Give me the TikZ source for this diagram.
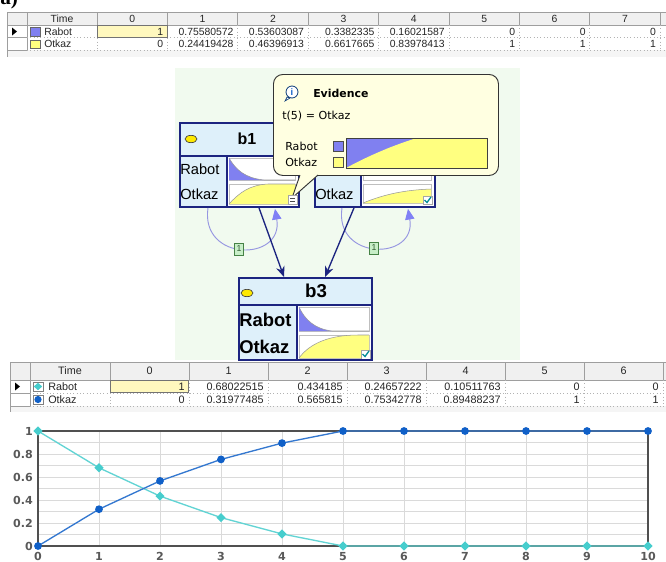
\documentclass[tikz,border=0pt]{standalone}
\usepackage{fontspec}
\setmainfont{Liberation Sans}
\newfontfamily\djv{DejaVu Sans}
\newfontfamily\serf{Liberation Serif}
\usetikzlibrary{arrows.meta,shapes.geometric,calc}

\definecolor{navy}{RGB}{28,36,128}
\definecolor{headfill}{RGB}{222,240,250}
\definecolor{rabotc}{RGB}{128,128,240}
\definecolor{otkazc}{RGB}{255,255,128}
\definecolor{tipfill}{RGB}{255,255,225}
\definecolor{loopc}{RGB}{150,150,225}
\definecolor{loophead}{RGB}{128,128,245}
\definecolor{tealc}{RGB}{70,205,205}
\definecolor{bluec}{RGB}{16,96,200}
\definecolor{gridc}{RGB}{218,218,218}
\definecolor{panec}{RGB}{241,250,239}
\definecolor{hdrc}{RGB}{240,240,240}
\definecolor{selc}{RGB}{255,248,190}
\definecolor{tagfill}{RGB}{200,238,200}
\definecolor{tagline}{RGB}{70,130,70}
\definecolor{checkc}{RGB}{0,140,150}
\definecolor{axisc}{RGB}{80,80,80}

\begin{document}
\begin{tikzpicture}[x=0.75pt,y=-0.75pt,
  tb/.style={inner sep=0pt, font=\fontsize{7.8}{9}\selectfont, text=black!85},
  tbb/.style={inner sep=0pt, font=\fontsize{8.1}{9}\selectfont, text=black!85},
  hline/.style={draw=black!38, line width=0.5pt},
  dline/.style={draw=black!30, dotted, line width=0.5pt},
  nborder/.style={draw=navy, line width=1.4pt, inner sep=0pt, anchor=north west},
  nlab/.style={inner sep=0pt, anchor=west, font=\fontsize{11}{11}\selectfont},
  nlabbig/.style={inner sep=0pt, anchor=west, font=\bfseries\fontsize{13.8}{14}\selectfont},
  minichart/.style={draw=black!25, line width=0.4pt, fill=white},
  curveedge/.style={draw=black!40, line width=0.4pt},
  dotmark/.style={ellipse, draw=black!75, fill=yellow!92!orange, line width=0.5pt, minimum width=9pt, minimum height=5.5pt, inner sep=0pt},
  depedge/.style={navy, line width=1pt, -{Stealth[length=8pt,width=6.5pt]}},
  tempedge/.style={loopc, line width=0.7pt, -{Triangle[length=8pt,width=7pt,color=loophead]}},
  tagbox/.style={draw=tagline, fill=tagfill, text=tagline!70!black, inner sep=0pt, minimum width=7pt, minimum height=9pt, font=\fontsize{6.5}{7}\selectfont},
  tiptext/.style={inner sep=0pt, anchor=west, font=\djv\fontsize{8.3}{9}\selectfont},
  ticklab/.style={inner sep=0pt, font=\djv\bfseries\fontsize{8.3}{9}\selectfont, text=black!65},
  checkbox/.style={draw=black!35, fill=white, line width=0.4pt},
]
\useasboundingbox (0,0) rectangle (666,561);
\clip (0,0) rectangle (666,561);
\fill[white] (0,0) rectangle (666,561);

% caption letter, mostly above the page edge
\node[anchor=base west, inner sep=0pt, font=\serf\bfseries\fontsize{16}{16}\selectfont] (caption) at (0,4) {a)};

% ---------------- upper table: prior marginals ----------------
\fill[white] (7,12) rectangle (666,57);
\fill[hdrc] (7,12) rectangle (666,25);
\fill[black!4] (7,50) rectangle (666,57);
\draw[hline] (7,12) -- (666,12) (7,25) -- (666,25) (7,12) -- (7,57);
\foreach \xx in {27,97,167.4,237.8,308.2,378.6,449,519.4,589.8,660.2}
  \draw[hline] (\xx,12) -- (\xx,25);
\draw[hline] (27,25) -- (27,50) (7,37.5) -- (27,37.5) (7,50) -- (27,50);
\foreach \xx in {97,167.4,237.8,308.2,378.6,449,519.4,589.8,660.2}
  \draw[dline] (\xx,25) -- (\xx,50);
\draw[dline] (27,37.5) -- (666,37.5) (27,50) -- (666,50);
\fill[selc] (97.5,25.5) rectangle (167,37);
\draw[black!55, line width=0.5pt] (97.5,25.5) rectangle (167,37);
\fill[black] (12,27.5) -- (17,31.5) -- (12,35.5) -- cycle;
\draw[black!60, fill=rabotc, line width=0.5pt] (30,27.5) rectangle (40,36);
\draw[black!60, fill=otkazc, line width=0.5pt] (30,40) rectangle (40,48.5);
\node[tb] (atime) at (62,18.5) {Time};
\node[tb, anchor=west] (arab) at (44,31.5) {Rabot};
\node[tb, anchor=west] (aotk) at (44,44) {Otkaz};
\foreach \k/\rv/\ov in {0/1/0,1/0.75580572/0.24419428,2/0.53603087/0.46396913,3/0.3382335/0.6617665,4/0.16021587/0.83978413,5/0/1,6/0/1,7/0/1}{
  \node[tb] (ah\k) at ({132.2+70.4*\k},18.5) {\k};
  \node[tb, anchor=east] (ar\k) at ({163.4+70.4*\k},31.5) {\rv};
  \node[tb, anchor=east] (ao\k) at ({163.4+70.4*\k},44) {\ov};
}

% ---------------- network pane ----------------
\fill[panec] (175,68) rectangle (520,360);

% node b1
\fill[headfill] (179,122) rectangle (298,206);
\fill[white] (227,156) rectangle (298,206);
\draw[minichart] (229,158) rectangle (295,180);
\fill[rabotc] (229,158) .. controls (236,170) and (245,178) .. (264,180) -- (229,180) -- cycle;
\draw[curveedge] (229,158) .. controls (236,170) and (245,178) .. (264,180) -- (295,180);
\draw[minichart] (229,184) rectangle (295,204);
\fill[otkazc] (229,204) .. controls (240,192) and (250,185) .. (268,184) -- (295,184) -- (295,204) -- cycle;
\draw[curveedge] (229,204) .. controls (240,192) and (250,185) .. (268,184) -- (295,184);
\draw[navy, line width=1pt] (179,156) -- (298,156) (227,156) -- (227,206);
\node[dotmark] (b1dot) at (191,139) {};
\node[inner sep=0pt, font=\bfseries\fontsize{12}{12}\selectfont] (b1name) at (247,139) {b1};
\node[nlab] (b1r) at (180,169) {Rabot};
\node[nlab] (b1o) at (180,194) {Otkaz};
\node[nborder, minimum width=89.25pt, minimum height=63pt] (b1) at (179,122) {};

% node b2
\fill[headfill] (314,122) rectangle (434,206);
\fill[white] (361,156) rectangle (434,206);
\draw[minichart] (363,158) rectangle (431,180);
\draw[minichart] (363,184) rectangle (431,203);
\fill[otkazc] (363,203) .. controls (385,194) and (405,190) .. (431,189) -- (431,203) -- cycle;
\draw[curveedge] (363,203) .. controls (385,194) and (405,190) .. (431,189);
\draw[navy, line width=1pt] (314,156) -- (434,156) (361,156) -- (361,206);
\node[nlab] (b2o) at (315,194) {Otkaz};
\draw[checkbox] (423,196) rectangle (432,204);
\draw[checkc, line width=1pt] (424.5,200) -- (427,202.5) -- (431,197);
\node[nborder, minimum width=90pt, minimum height=63pt] (b2) at (314,122) {};

% node b3
\fill[headfill] (238,277) rectangle (371,359);
\fill[white] (297,305) rectangle (371,359);
\draw[minichart] (299,307) rectangle (369,331);
\fill[rabotc] (299,307) .. controls (305,320) and (315,329) .. (332,331) -- (299,331) -- cycle;
\draw[curveedge] (299,307) .. controls (305,320) and (315,329) .. (332,331) -- (369,331);
\draw[minichart] (299,335) rectangle (369,358);
\fill[otkazc] (299,358) .. controls (310,343) and (330,335) .. (358,335) -- (369,335) -- (369,358) -- cycle;
\draw[curveedge] (299,358) .. controls (310,343) and (330,335) .. (358,335) -- (369,335);
\draw[navy, line width=1pt] (238,305) -- (371,305) (297,305) -- (297,359);
\node[dotmark] (b3dot) at (247,293) {};
\node[inner sep=0pt, font=\bfseries\fontsize{14}{14}\selectfont] (b3name) at (316,291) {b3};
\node[nlabbig] (b3r) at (239,320) {Rabot};
\node[nlabbig] (b3o) at (239,347) {Otkaz};
\draw[checkbox] (361,350) rectangle (370,359);
\draw[checkc, line width=1pt] (362.5,354) -- (365,356.5) -- (369,351);
\node[nborder, minimum width=99.75pt, minimum height=61.5pt] (b3) at (238,277) {};

% connection points on the node frames
\coordinate (b1loopout) at ($(b1.south west)+(29,0)$);
\coordinate (b1loopin)  at ($(b1.south west)+(96,1)$);
\coordinate (b1out)     at ($(b1.south west)+(80,0)$);
\coordinate (b2loopout) at ($(b2.south west)+(28,0)$);
\coordinate (b2loopin)  at ($(b2.south west)+(94,1)$);
\coordinate (b2out)     at ($(b2.south west)+(40,0)$);
\coordinate (b3inA)     at ($(b3.north west)+(46,0)$);
\coordinate (b3inB)     at ($(b3.north west)+(87,0)$);

% temporal self-links with their lag tags
\draw[tempedge] (b1loopout) .. controls (200,262) and (284,262) .. (b1loopin);
\draw[tempedge] (b2loopout) .. controls (334,261) and (417,261) .. (b2loopin);
\node[tagbox] (lag1) at (239,249) {1};
\node[tagbox] (lag2) at (374,248) {1};

% dependencies into b3
\draw[depedge] (b1out) -- (b3inA);
\draw[depedge] (b2out) -- (b3inB);

% evidence tooltip
\node[draw=black!80, fill=tipfill, line width=0.7pt, rounded corners=7pt, minimum width=168.75pt, minimum height=75.75pt, inner sep=0pt, anchor=north west] (evid) at (273,74) {};
\fill[tipfill] (300,175) -- (292,198) -- (318,175) -- cycle;
\fill[tipfill] (301,173) rectangle (317,176.3);
\draw[black!80, line width=0.7pt] (300,175) -- (292,198) -- (318,175);
\fill[white, draw=bluec!60!black, line width=0.5pt] (287,97) -- (285,101) -- (290,98) -- cycle;
\node[circle, draw=bluec!60!black, fill=white, line width=0.6pt, inner sep=0pt, minimum size=9pt, font=\bfseries\fontsize{7}{7}\selectfont, text=bluec] (info) at (292,92) {i};
\node[tiptext, font=\djv\bfseries\fontsize{8.2}{9}\selectfont] (evhead) at (313,93) {Evidence};
\node[tiptext] (evline) at (282,116) {t(5) = Otkaz};
\node[tiptext] (evrab) at (285,146) {Rabot};
\node[tiptext] (evotk) at (285,162) {Otkaz};
\draw[black!70, fill=rabotc, line width=0.5pt] (333,141) rectangle (343,151);
\draw[black!70, fill=otkazc, line width=0.5pt] (333,157) rectangle (343,167);
\fill[rabotc] (346,138) rectangle (487,168);
\fill[otkazc] plot[smooth] coordinates {(346,168) (360.1,160.7) (374.2,154.1) (388.3,148.1) (402.4,142.8) (416.5,138)} -- (487,138) -- (487,168) -- cycle;
\draw[black!75, line width=0.6pt] (346,138) rectangle (487,168);

% evidence marker on b1
\draw[checkbox] (288,195) rectangle (297,204);
\draw[black!70, line width=0.6pt] (290,198.5) -- (295,198.5) (290,201) -- (295,201);

% ---------------- lower table: posterior marginals ----------------
\fill[white] (10,362) rectangle (666,412);
\fill[hdrc] (10,362) rectangle (666,380);
\fill[black!4] (10,406) rectangle (666,412);
\draw[hline] (10,362) -- (666,362) (10,380) -- (666,380) (10,362) -- (10,412);
\foreach \xx in {30,110,189,268,347,426,505,584,663}
  \draw[hline] (\xx,362) -- (\xx,380);
\draw[hline] (30,380) -- (30,406) (10,393) -- (30,393) (10,406) -- (30,406);
\foreach \xx in {110,189,268,347,426,505,584,663}
  \draw[dline] (\xx,380) -- (\xx,406);
\draw[dline] (30,393) -- (666,393) (30,406) -- (666,406);
\fill[selc] (110.5,380.5) rectangle (188.5,392.5);
\draw[black!55, line width=0.5pt] (110.5,380.5) rectangle (188.5,392.5);
\fill[black] (15,382.5) -- (20,386.5) -- (15,390.5) -- cycle;
\draw[black!50, fill=white, line width=0.5pt] (33,382) rectangle (43,391);
\fill[tealc] (38,382.8) -- (42.2,386.5) -- (38,390.2) -- (33.8,386.5) -- cycle;
\draw[black!50, fill=white, line width=0.5pt] (33,395) rectangle (43,404);
\fill[bluec] (38,399.5) circle[radius=3.6];
\node[tbb] (btime) at (70,371) {Time};
\node[tbb, anchor=west] (brab) at (48,386.5) {Rabot};
\node[tbb, anchor=west] (botk) at (48,399.5) {Otkaz};
\foreach \k/\rv/\ov in {0/1/0,1/0.68022515/0.31977485,2/0.434185/0.565815,3/0.24657222/0.75342778,4/0.10511763/0.89488237,5/0/1,6/0/1}{
  \node[tbb] (bh\k) at ({149.5+79*\k},371) {\k};
  \node[tbb, anchor=east] (br\k) at ({185+79*\k},386.5) {\rv};
  \node[tbb, anchor=east] (bo\k) at ({185+79*\k},399.5) {\ov};
}

% ---------------- chart of the posterior marginals ----------------
\foreach \t in {0,...,10}
  \draw[gridc, line width=0.6pt] ({38+61*\t},431) -- ({38+61*\t},546);
\foreach \v in {1,...,9}
  \draw[gridc, line width=0.6pt] (38,{546-11.5*\v}) -- (648,{546-11.5*\v});
\draw[axisc, line width=0.9pt] (38,431) rectangle (648,546);
\foreach \v/\lab in {0/0,2/0.2,4/0.4,6/0.6,8/0.8,10/1}
  \node[ticklab, anchor=east] (yt\v) at (33,{546-11.5*\v}) {\lab};
\foreach \t in {0,...,10}
  \node[ticklab, anchor=north] (xt\t) at ({38+61*\t},552) {\t};

% Rabot series: diamonds
\draw[tealc!85!white, line width=1pt] plot coordinates {(38,431) (99,467.8) (160,496.1) (221,517.6) (282,533.9) (343,546) (404,546) (465,546) (526,546) (587,546) (648,546)};
\foreach \xx/\yy in {38/431,99/467.8,160/496.1,221/517.6,282/533.9,343/546,404/546,465/546,526/546,587/546,648/546}
  \fill[tealc] (\xx,\yy) ++(0,-4.6) -- ++(4.6,4.6) -- ++(-4.6,4.6) -- ++(-4.6,-4.6) -- cycle;
% Otkaz series: dots
\draw[bluec!85!white, line width=1pt] plot coordinates {(38,546) (99,509.2) (160,480.9) (221,459.4) (282,443.1) (343,431) (404,431) (465,431) (526,431) (587,431) (648,431)};
\foreach \xx/\yy in {38/546,99/509.2,160/480.9,221/459.4,282/443.1,343/431,404/431,465/431,526/431,587/431,648/431}
  \fill[bluec] (\xx,\yy) circle[radius=3.9];
\end{tikzpicture}
\end{document}
